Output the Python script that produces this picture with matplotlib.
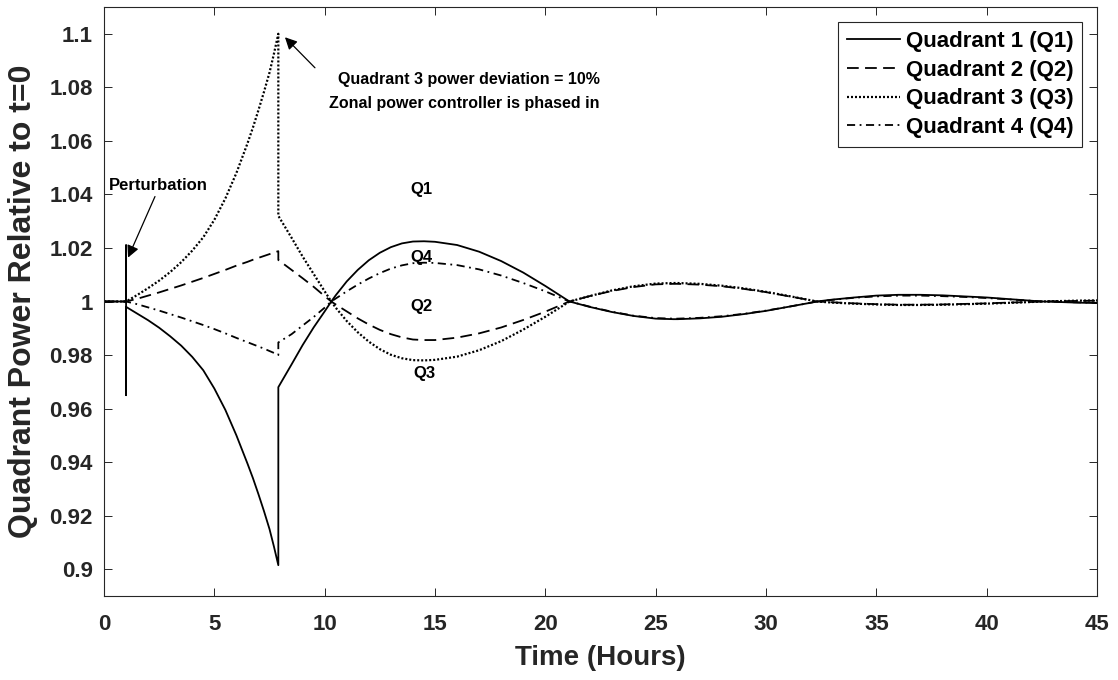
import matplotlib
matplotlib.use('Agg')
import matplotlib.pyplot as plt
import numpy as np

plt.rcParams['font.family'] = ['Liberation Sans', 'DejaVu Sans']
plt.rcParams['font.weight'] = 'bold'

# time axis (hours); repeated entries give the vertical jumps at t=1 and t=7.9
hours = [0, 1, 1, 1, 1, 1.5, 2, 2.5, 3, 3.5, 4, 4.5, 5, 5.5, 6, 6.5, 6.75, 7, 7.25, 7.5, 7.7, 7.9, 7.9,
         8.5, 9, 9.5, 10, 10.3, 10.5, 11, 11.5, 12, 12.5, 13, 13.5, 14, 14.5, 15, 16, 17, 18, 19, 20, 21, 21.1,
         22, 23, 24, 25, 25.8, 26, 27, 28, 29, 30, 31, 32, 32.3,
         33, 34, 35, 36, 36.3, 37, 38, 39, 40, 41, 42, 42.5, 43, 44, 45]

q1 = [1.0, 1.0, 1.021, 0.965, 0.998, 0.9955, 0.9930, 0.9902, 0.9870, 0.9835, 0.9793, 0.9743, 0.9675, 0.9595,
      0.9500, 0.9395, 0.9340, 0.9280, 0.9217, 0.9150, 0.9085, 0.9015, 0.968,
      0.9765, 0.9837, 0.9903, 0.9963, 1.0, 1.0023, 1.0075, 1.0118, 1.0154, 1.0182, 1.0203, 1.0217, 1.0224,
      1.0225, 1.0223, 1.0211, 1.0186, 1.0151, 1.0108, 1.0058, 1.0005, 1.0,
      0.9980, 0.9961, 0.9946, 0.9936, 0.9934, 0.9934, 0.9937, 0.9943, 0.9953, 0.9965, 0.9980, 0.9995, 1.0,
      1.0007, 1.0015, 1.0022, 1.0025, 1.0025, 1.0025, 1.0023, 1.0019, 1.0015, 1.0009, 1.0003, 1.0, 0.9999,
      0.9996, 0.9994]

q2 = [1.0, 1.0, 1.0, 1.0, 1.0, 1.0010, 1.0022, 1.0034, 1.0047, 1.0060, 1.0074, 1.0088, 1.0103, 1.0118,
      1.0134, 1.0148, 1.0156, 1.0163, 1.0170, 1.0177, 1.0183, 1.0188, 1.0155,
      1.0118, 1.0087, 1.0055, 1.0020, 1.0, 0.9989, 0.9963, 0.9937, 0.9914, 0.9894, 0.9878, 0.9866, 0.9858,
      0.9856, 0.9856, 0.9865, 0.9881, 0.9903, 0.9931, 0.9962, 0.9997, 1.0,
      1.0020, 1.0039, 1.0054, 1.0064, 1.0066, 1.0066, 1.0063, 1.0057, 1.0047, 1.0035, 1.0020, 1.0005, 1.0,
      0.9997, 0.9993, 0.9990, 0.9988, 0.9988, 0.9988, 0.9989, 0.9991, 0.9993, 0.9996, 0.9998, 1.0, 1.0001,
      1.0002, 1.0003]

q3 = [1.0, 1.0, 1.0, 1.0, 1.0, 1.0024, 1.0050, 1.0078, 1.0110, 1.0147, 1.0190, 1.0240, 1.0305, 1.0385,
      1.0480, 1.0590, 1.0650, 1.0715, 1.0783, 1.0855, 1.0925, 1.1000, 1.0320,
      1.0238, 1.0168, 1.0103, 1.0038, 1.0, 0.9977, 0.9927, 0.9885, 0.9850, 0.9822, 0.9801, 0.9788, 0.9781,
      0.9780, 0.9782, 0.9794, 0.9818, 0.9852, 0.9895, 0.9943, 0.9995, 1.0,
      1.0020, 1.0041, 1.0057, 1.0067, 1.0069, 1.0069, 1.0066, 1.0059, 1.0049, 1.0036, 1.0021, 1.0005, 1.0,
      0.9996, 0.9992, 0.9989, 0.9987, 0.9987, 0.9987, 0.9988, 0.9990, 0.9992, 0.9995, 0.9998, 1.0, 1.0001,
      1.0003, 1.0004]

q4 = [1.0, 1.0, 1.0, 1.0, 1.0, 0.9990, 0.9978, 0.9966, 0.9953, 0.9940, 0.9926, 0.9912, 0.9897, 0.9881,
      0.9864, 0.9848, 0.9840, 0.9832, 0.9824, 0.9815, 0.9808, 0.9800, 0.9847,
      0.9878, 0.9910, 0.9942, 0.9977, 1.0, 1.0011, 1.0038, 1.0063, 1.0086, 1.0106, 1.0123, 1.0135, 1.0143,
      1.0145, 1.0144, 1.0136, 1.0120, 1.0097, 1.0069, 1.0038, 1.0003, 1.0,
      0.9981, 0.9962, 0.9947, 0.9938, 0.9936, 0.9936, 0.9939, 0.9945, 0.9954, 0.9966, 0.9980, 0.9995, 1.0,
      1.0006, 1.0014, 1.0019, 1.0022, 1.0022, 1.0022, 1.0020, 1.0017, 1.0013, 1.0008, 1.0003, 1.0, 0.9999,
      0.9997, 0.9995]

labels = ['Quadrant 1 (Q1)', 'Quadrant 2 (Q2)', 'Quadrant 3 (Q3)', 'Quadrant 4 (Q4)']
x_ticks = [0, 5, 10, 15, 20, 25, 30, 35, 40, 45]
y_ticks = [0.9, 0.92, 0.94, 0.96, 0.98, 1.0, 1.02, 1.04, 1.06, 1.08, 1.1]

axis_grey = '#262626'

fig = plt.figure(figsize=(11.18, 6.8), dpi=100)
ax = fig.add_axes([104 / 1118, 1 - 596 / 680, 993 / 1118, 589 / 680])

lw = 1.3
ax.plot(hours, q1, color='black', lw=lw, ls='-', label=labels[0])
ax.plot(hours, q2, color='black', lw=lw, dashes=(6.5, 3.5), label=labels[1])
ax.plot(hours, q3, color='black', lw=1.6, dashes=(0.9, 0.9), label=labels[2])
ax.plot(hours, q4, color='black', lw=lw, dashes=(4.5, 2.5, 1, 2.5), label=labels[3])

ax.set_xlim(0, 45)
ax.set_ylim(0.89, 1.11)
ax.set_xticks(x_ticks)
ax.set_yticks(y_ticks)
ax.set_yticklabels([f'{v:g}' for v in y_ticks])
ax.tick_params(direction='in', length=6, width=0.7, top=True, right=True,
               labelsize=16, colors=axis_grey)
ax.tick_params(axis='x', pad=13)
ax.tick_params(axis='y', pad=8)
for sp in ax.spines.values():
    sp.set_color(axis_grey)
    sp.set_linewidth(0.8)

ax.set_xlabel('Time (Hours)', fontsize=20, fontweight='bold', color=axis_grey)
ax.set_ylabel('Quadrant Power Relative to t=0', fontsize=23, fontweight='bold', color=axis_grey)
ax.xaxis.set_label_coords(0.5, -0.083)
ax.yaxis.set_label_coords(-0.066, 0.5)

leg = ax.legend(loc='upper right', bbox_to_anchor=(0.985, 0.9745), borderaxespad=0,
                fontsize=16, handlelength=2.4, handletextpad=0.25, labelspacing=0.35,
                borderpad=0.4, fancybox=False, framealpha=1)
leg.get_frame().set_edgecolor(axis_grey)
leg.get_frame().set_linewidth(0.8)

arrow = dict(arrowstyle='-|>', mutation_scale=18, lw=0.9, color='black', shrinkA=0, shrinkB=0)

# perturbation marker
ax.text(2.45, 1.0433, 'Perturbation', fontsize=12, ha='center', va='center')
ax.annotate('', xy=(1.09, 1.0164), xytext=(2.31, 1.0392), arrowprops=arrow)

# controller switch-in at the Q3 peak
ax.annotate('', xy=(8.2, 1.0987), xytext=(9.56, 1.0873), arrowprops=arrow)
ax.text(10.6, 1.0828, 'Quadrant 3 power deviation = 10%', fontsize=11.5, ha='left', va='center')
ax.text(10.19, 1.0738, 'Zonal power controller is phased in', fontsize=11.5, ha='left', va='center')

# curve tags
ax.text(14.4, 1.0420, 'Q1', fontsize=12, ha='center', va='center')
ax.text(14.4, 1.0166, 'Q4', fontsize=12, ha='center', va='center')
ax.text(14.4, 0.9981, 'Q2', fontsize=12, ha='center', va='center')
ax.text(14.5, 0.9731, 'Q3', fontsize=12, ha='center', va='center')

fig.savefig('out.png', dpi=100)
